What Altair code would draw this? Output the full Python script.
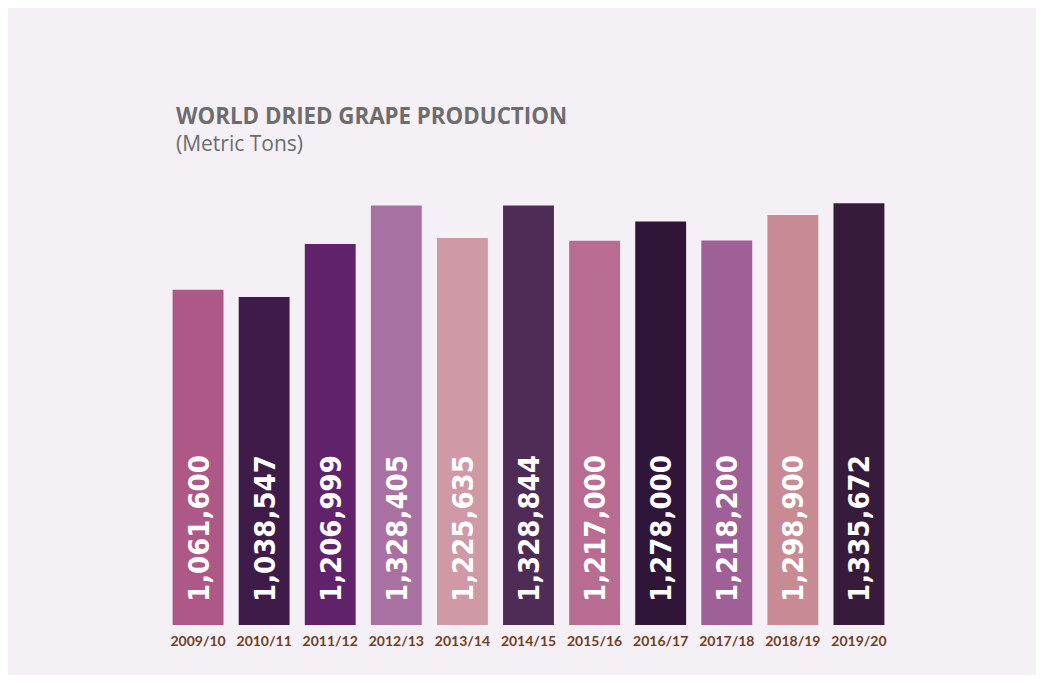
import altair as alt
import pandas as pd

seasons = ["2009/10", "2010/11", "2011/12", "2012/13", "2013/14", "2014/15",
           "2015/16", "2016/17", "2017/18", "2018/19", "2019/20"]
production = [1061600, 1038547, 1206999, 1328405, 1225635, 1328844,
              1217000, 1278000, 1218200, 1298900, 1335672]
bar_colors = ["#ad5886", "#3e1b49", "#5f226b", "#a871a2", "#cf99a5", "#4f2c55",
              "#b96c92", "#2f1538", "#9f5f97", "#c88b93", "#371b3a"]

df = pd.DataFrame({"season": seasons, "value": production})

x = alt.X("season:N", sort=seasons, title=None,
          scale=alt.Scale(paddingInner=0.23, paddingOuter=0.115),
          axis=alt.Axis(labelAngle=0, domain=False, ticks=False, labelPadding=9,
                        labelFont="Lato", labelFontSize=14, labelFontWeight="bold",
                        labelColor="#6e3f25"))
y = alt.Y("value:Q", title=None, scale=alt.Scale(domain=[0, 1400000]), axis=None)

bars = alt.Chart(df).mark_bar().encode(
    x=x, y=y,
    color=alt.Color("season:N", sort=seasons, legend=None,
                    scale=alt.Scale(domain=seasons, range=bar_colors)),
)

labels = alt.Chart(df).mark_text(
    angle=270, align="left", baseline="middle", dx=23, dy=1.5,
    font="DejaVu Sans Condensed", fontSize=29, fontWeight="bold", color="white",
).encode(
    x=alt.X("season:N", sort=seasons),
    y=alt.datum(0),
    text=alt.Text("value:Q", format=",d"),
)

chart = alt.layer(bars, labels).properties(
    width=727, height=442,
    autosize=alt.AutoSizeParams(type="none"),
    padding={"left": 157, "top": 175, "right": 144, "bottom": 50},
    background="#f5f0f6",
    title=alt.TitleParams(
        text="WORLD DRIED GRAPE PRODUCTION",
        subtitle="(Metric Tons)",
        anchor="start", dx=11, offset=28,
        font="Open Sans", fontSize=22.3, fontWeight="bold", color="#6d6d6d",
        subtitleFont="Open Sans", subtitleFontSize=21, subtitleColor="#6d6d6d",
        subtitlePadding=6,
    ),
).configure_view(stroke=None)

chart.save("out.html", embed_options={"renderer": "svg", "actions": False})
